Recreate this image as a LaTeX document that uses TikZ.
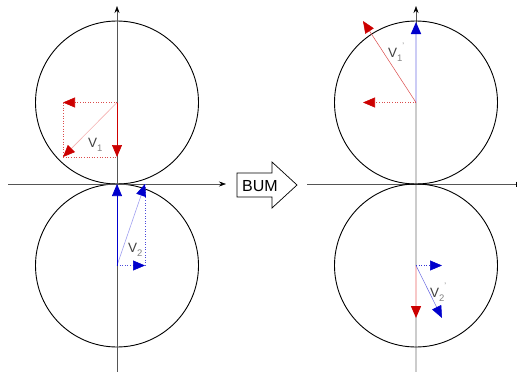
\documentclass[tikz,border=0pt]{standalone}
\usepackage{fontspec}
\setmainfont{Liberation Sans}
\usetikzlibrary{arrows.meta}
\definecolor{vred}{HTML}{CC0000}
\definecolor{vblue}{HTML}{0000CC}
\definecolor{lred}{HTML}{F4B0B0}
\definecolor{lblue}{HTML}{A0A0F0}
\definecolor{axgray}{HTML}{555555}
\tikzset{
  wheel/.style={circle,draw=black,line width=0.9pt,minimum size=163pt,inner sep=0pt},
  axis/.style={draw=axgray,line width=0.6pt,-{Stealth[length=7pt,width=5pt,color=black]}},
  redtip/.style={-{Triangle[length=12pt,width=10pt,color=vred]}},
  bluetip/.style={-{Triangle[length=12pt,width=10pt,color=vblue]}},
  reddot/.style={draw=vred!70,dotted,line width=0.6pt},
  bluedot/.style={draw=vblue!70,dotted,line width=0.6pt},
  lbl/.style={inner sep=0pt,font=\fontsize{13.5}{15}\selectfont,text=black!75}
}
\newcommand{\vlab}[2]{V\raisebox{-4pt}{\fontsize{9.5}{10}\selectfont\color{black!50}#1}\raisebox{9pt}{\fontsize{8}{9}\selectfont\color{black!50}#2}}
\begin{document}
\begin{tikzpicture}[x=1pt,y=-1pt]
\useasboundingbox (0,0) rectangle (517,372);
% ---------- left panel ----------
\coordinate (LT) at (117,102.5);
\coordinate (LB) at (117,265.5);
\node[wheel] (w1) at (LT) {};
\node[wheel] (w2) at (LB) {};
\coordinate (lax0) at (117,372);
\coordinate (lax1) at (117,6);
\coordinate (lhx0) at (8,184);
\coordinate (lhx1) at (226,184);
\draw[axis] (lax0) -- (lax1);
\draw[axis] (lhx0) -- (lhx1);
% top-left red vectors
\coordinate (a1) at (63,102.5);
\coordinate (a2) at (117,157);
\coordinate (a3) at (63,157);
\draw[reddot] (a1) -- (a3) -- (a2);
\draw[draw=lred,line width=0.6pt,redtip] (LT) -- (a3);
\draw[reddot,redtip] (LT) -- (a1);
\draw[draw=vred,line width=0.7pt,redtip] (LT) -- (a2);
\node[lbl,anchor=base west] (v1) at (88,147) {\vlab{1}{}};
% bottom-left blue vectors
\coordinate (b1) at (145,265.5);
\coordinate (b2) at (117,184);
\coordinate (b3) at (145,184);
\draw[bluedot] (b1) -- (b3);
\draw[bluedot] (117,196) -- (117,265.5);
\draw[draw=lblue,line width=0.6pt,bluetip] (LB) -- (b3);
\draw[bluedot,bluetip] (LB) -- (b1);
\draw[draw=vblue,line width=0.7pt,bluetip] (LB) -- (b2);
\node[lbl,anchor=base west] (v2) at (128,252) {\vlab{2}{}};
% ---------- BUM arrow ----------
\draw[black,line width=0.7pt,fill=white,line join=miter]
  (237,173) -- (272,173) -- (272,162) -- (297,185) -- (272,208) -- (272,197) -- (237,197) -- cycle;
\node[inner sep=0pt,font=\fontsize{16}{18}\selectfont] (bum) at (260,186) {BUM};
% ---------- right panel ----------
\coordinate (RT) at (416,102.5);
\coordinate (RB) at (416,265.5);
\coordinate (rax0) at (416,372);
\coordinate (rax1) at (416,6);
\coordinate (rhx0) at (307,184);
\coordinate (rhx1) at (517,184);
\draw[draw=black!20,line width=1.6pt] (rax0) -- (RT);
\draw[draw=vblue!20,line width=1.6pt] (RT) -- (416,30);
\draw[draw=lred!70,line width=1.4pt] (RB) -- (416,308);
\draw[axgray,line width=0.6pt,-{Stealth[length=7pt,width=5pt,color=black]}] (416,30) -- (rax1);
\draw[draw=axgray,line width=0.7pt,-{Bar[width=5pt,color=black]}] (rhx0) -- (rhx1);
\node[wheel] (w3) at (RT) {};
\node[wheel] (w4) at (RB) {};
% blue up arrow (top right)
\coordinate (c0) at (416,36);
\coordinate (c1) at (416,22);
\draw[draw=vblue!20,line width=1.6pt,bluetip] (c0) -- (c1);
% top-right red vectors
\coordinate (d1) at (363,102.5);
\coordinate (d2) at (363,21);
\draw[draw=vred!70,line width=0.5pt,redtip] (RT) -- (d2);
\draw[reddot,redtip] (RT) -- (d1);
\node[lbl,anchor=base west] (v1p) at (388,57) {\vlab{1}{'}};
% bottom-right vectors
\coordinate (e1) at (442,265.5);
\coordinate (e2) at (416,318);
\coordinate (e3) at (442,318);
\draw[bluedot,draw=vblue!80,bluetip] (RB) -- (e1);
\draw[draw=lred!70,line width=1.4pt,redtip] (416,300) -- (e2);
\draw[draw=vblue!60,line width=0.5pt,bluetip] (RB) -- (e3);
\node[lbl,anchor=base west] (v2p) at (430,297) {\vlab{2}{'}};
\end{tikzpicture}
\end{document}
